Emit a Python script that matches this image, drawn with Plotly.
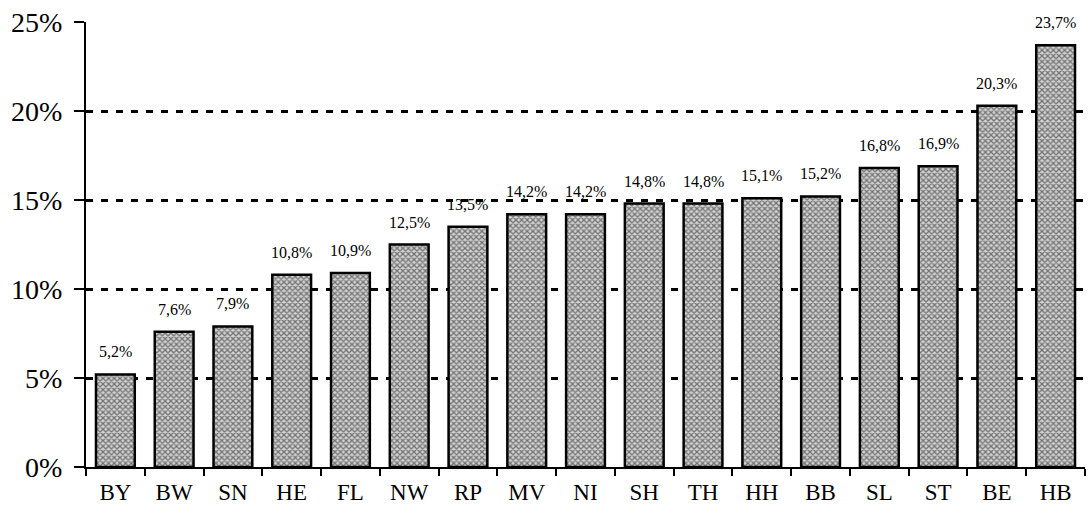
import plotly.graph_objects as go

# Share by federal state, sorted ascending
states = ["BY", "BW", "SN", "HE", "FL", "NW", "RP", "MV", "NI", "SH", "TH", "HH", "BB", "SL", "ST", "BE", "HB"]
shares = [5.2, 7.6, 7.9, 10.8, 10.9, 12.5, 13.5, 14.2, 14.2, 14.8, 14.8, 15.1, 15.2, 16.8, 16.9, 20.3, 23.7]
y_ticks = [0, 5, 10, 15, 20, 25]
y_tick_labels = ["0%", "5%", "10%", "15%", "20%", "25%"]

font_family = "Liberation Serif, Times New Roman, serif"

fig = go.Figure()
fig.add_trace(go.Bar(
    x=states,
    y=shares,
    marker=dict(
        color="#777777",
        line=dict(color="black", width=2.5),
        pattern=dict(shape="x", fgcolor="#111111", bgcolor="#d4d4d4", size=4, solidity=0.55),
    ),
    cliponaxis=False,
))

# Value labels above the bars, with a decimal comma
for s, v in zip(states, shares):
    fig.add_annotation(
        x=s, y=v,
        text=f"{v:.1f}%".replace(".", ","),
        showarrow=False,
        yanchor="bottom",
        yshift=12,
        font=dict(family=font_family, size=16, color="black"),
    )

fig.update_layout(
    width=1089,
    height=514,
    margin=dict(l=86, r=4, t=22, b=47),
    paper_bgcolor="white",
    plot_bgcolor="white",
    bargap=0.34,
    showlegend=False,
    font=dict(family=font_family, color="black"),
)

fig.update_yaxes(
    range=[0, 25],
    tickvals=y_ticks,
    ticktext=y_tick_labels,
    tickfont=dict(size=28),
    ticklabelstandoff=6,
    showgrid=True,
    gridcolor="black",
    gridwidth=2.5,
    griddash="7px,8px",
    showline=True,
    linecolor="black",
    linewidth=2,
    ticks="outside",
    ticklen=10,
    tickwidth=2,
    tickcolor="black",
    zeroline=False,
)

fig.update_xaxes(
    tickfont=dict(size=23),
    ticklabelstandoff=3,
    showline=True,
    linecolor="black",
    linewidth=2,
    ticks="outside",
    tickson="boundaries",
    ticklen=7,
    tickwidth=2,
    tickcolor="black",
    showgrid=False,
)

fig.write_html("out.html")
